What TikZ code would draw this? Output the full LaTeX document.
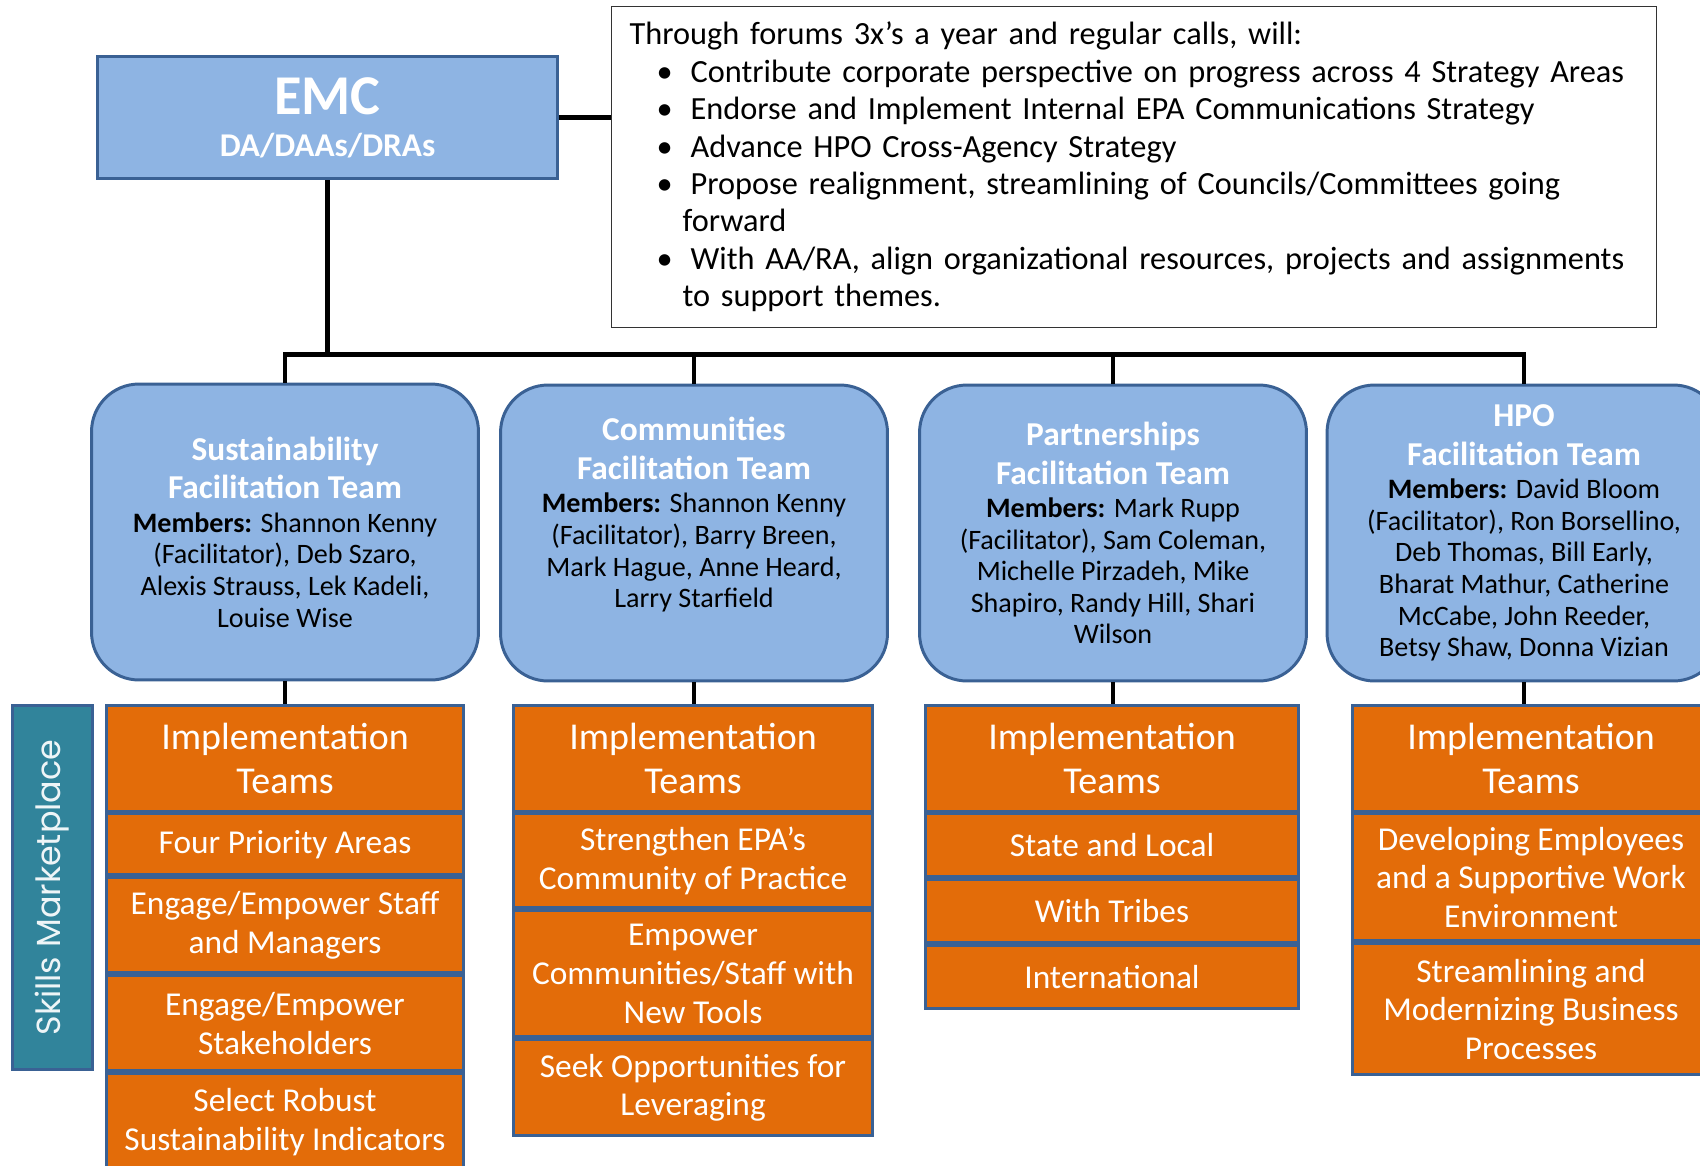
\documentclass[tikz,border=0pt]{standalone}
\usepackage{fontspec}
\setmainfont{Carlito}
\newfontfamily\gothicfont{Poppins}
\usetikzlibrary{positioning}

\definecolor{boxblue}{HTML}{8EB4E3}
\definecolor{edgeblue}{HTML}{3A6194}
\definecolor{implorange}{HTML}{E36C09}
\definecolor{skillteal}{HTML}{31849B}

\tikzset{
  link/.style={line width=2.4pt},
  emcbox/.style={draw=edgeblue, fill=boxblue, line width=1.7pt, text=white, align=center,
    minimum width=9.2cm, minimum height=2.44cm, font=\bfseries\fontsize{32}{24}\selectfont},
  notebox/.style={draw=black!80, line width=1pt, fill=white, align=left, text width=20.3cm,
    inner xsep=0.3cm, minimum height=6.42cm, font=\fontsize{18.4}{21.3}\selectfont},
  teambox/.style={draw=edgeblue, fill=boxblue, line width=1.7pt, rounded corners=0.95cm, align=center,
    minimum width=7.74cm, minimum height=5.92cm, font=\fontsize{16}{18}\selectfont},
  implhead/.style={draw=edgeblue, fill=implorange, line width=1.7pt, text=white, align=center,
    minimum height=2.12cm, font=\fontsize{21.6}{25}\selectfont},
  impl/.style={draw=edgeblue, fill=implorange, line width=1.7pt, text=white, align=center,
    font=\fontsize{19}{22}\selectfont},
  skills/.style={draw=edgeblue, fill=skillteal, line width=1.7pt, text=white!92!skillteal,
    minimum width=7.3cm, minimum height=1.62cm, font=\gothicfont\fontsize{19}{22}\selectfont}
}
\newcommand{\teamtitle}[1]{{\bfseries\color{white}\fontsize{19}{22}\selectfont #1}}
\newcommand{\bul}{\hspace*{0.6cm}\makebox[0.68cm][l]{\textbullet}}

\begin{document}
\begin{tikzpicture}[x=0.02cm, y=-0.02cm]
	\useasboundingbox[fill=white] (0,0) rectangle (1700,1166);
	% top
	\node (emc) at (327.5,117.6) [emcbox] {EMC\\{\fontsize{18.9}{22}\selectfont DA/DAAs/DRAs}};
	\node (note) at (1134,167) [notebox] {\hspace*{0.06cm}Through forums 3x’s a year and regular calls, will:\\
		\bul Contribute corporate perspective on progress across 4 Strategy Areas\\
		\bul Endorse and Implement Internal EPA Communications Strategy\\
		\bul Advance HPO Cross-Agency Strategy\\
		\bul Propose realignment, streamlining of Councils/Committees going\\
		\hspace*{1.12cm}forward\\
		\bul With AA/RA, align organizational resources, projects and assignments\\
		\hspace*{1.12cm}to support themes.};
	% facilitation teams
	\node (sust) at (285,532) [teambox] {\teamtitle{Sustainability}\\[4pt]\teamtitle{Facilitation Team}\\[1pt]
		\textbf{Members:} Shannon Kenny\\(Facilitator), Deb Szaro,\\Alexis Strauss, Lek Kadeli,\\Louise Wise};
	\node (comm) at (694,533) [teambox] {\teamtitle{Communities}\\[4pt]\teamtitle{Facilitation Team}\\[1pt]
		\textbf{Members:} Shannon Kenny\\(Facilitator), Barry Breen,\\Mark Hague, Anne Heard,\\Larry Starfield\\ \strut};
	\node (part) at (1113,533) [teambox] {\teamtitle{Partnerships}\\[4pt]\teamtitle{Facilitation Team}\\[1pt]
		\textbf{Members:} Mark Rupp\\(Facilitator), Sam Coleman,\\Michelle Pirzadeh, Mike\\Shapiro, Randy Hill, Shari\\Wilson};
	\node (hpo) at (1524,533) [teambox, minimum width=7.88cm] {\teamtitle{HPO}\\[4pt]\teamtitle{Facilitation Team}\\[1pt]
		\textbf{Members:} David Bloom\\(Facilitator), Ron Borsellino,\\Deb Thomas, Bill Early,\\Bharat Mathur, Catherine\\McCabe, John Reeder,\\Betsy Shaw, Donna Vizian};
	% implementation teams
	\node (sust0) at (285,758) [implhead, minimum width=7.16cm] {Implementation\\Teams};
	\node (sust1) [impl, below=0pt of sust0, minimum width=7.16cm, minimum height=1.22cm] {Four Priority Areas};
	\node (sust2) [impl, below=0pt of sust1, minimum width=7.16cm, minimum height=1.9cm] {Engage/Empower Staff\\and Managers};
	\node (sust3) [impl, below=0pt of sust2, minimum width=7.16cm, minimum height=1.9cm] {Engage/Empower\\Stakeholders};
	\node (sust4) [impl, below=0pt of sust3, minimum width=7.16cm, minimum height=1.92cm] {Select Robust\\Sustainability Indicators};

	\node (comm0) at (693,758) [implhead, minimum width=7.2cm] {Implementation\\Teams};
	\node (comm1) [impl, below=0pt of comm0, minimum width=7.2cm, minimum height=1.88cm] {Strengthen EPA’s\\Community of Practice};
	\node (comm2) [impl, below=0pt of comm1, minimum width=7.2cm, minimum height=2.52cm] {Empower\\Communities/Staff with\\New Tools};
	\node (comm3) [impl, below=0pt of comm2, minimum width=7.2cm, minimum height=1.92cm] {Seek Opportunities for\\Leveraging};

	\node (part0) at (1112,758) [implhead, minimum width=7.48cm] {Implementation\\Teams};
	\node (part1) [impl, below=0pt of part0, minimum width=7.48cm, minimum height=1.26cm] {State and Local};
	\node (part2) [impl, below=0pt of part1, minimum width=7.48cm, minimum height=1.26cm] {With Tribes};
	\node (part3) [impl, below=0pt of part2, minimum width=7.48cm, minimum height=1.26cm] {International};

	\node (hpo0) at (1531,758) [implhead, minimum width=7.16cm] {Implementation\\Teams};
	\node (hpo1) [impl, below=0pt of hpo0, minimum width=7.16cm, minimum height=2.54cm] {Developing Employees\\and a Supportive Work\\Environment};
	\node (hpo2) [impl, below=0pt of hpo1, minimum width=7.16cm, minimum height=2.62cm] {Streamlining and\\Modernizing Business\\Processes};

	\node (skill) at (52.5,887.5) [skills, rotate=90] {Skills Marketplace};
	% connectors
	\coordinate (bus) at (0,354.5);
	\draw[link] (emc.east) -- (emc.east -| note.west);
	\draw[link] (emc.south) -- (emc.south |- bus);
	\draw[link] (sust.north) -- (sust.north |- bus) -- (hpo.north |- bus) -- (hpo.north);
	\draw[link] (comm.north) -- (comm.north |- bus);
	\draw[link] (part.north) -- (part.north |- bus);
	\draw[link] (sust.south) -- (sust.south |- sust0.north);
	\draw[link] (comm.south) -- (comm.south |- comm0.north);
	\draw[link] (part.south) -- (part.south |- part0.north);
	\draw[link] (hpo.south) -- (hpo.south |- hpo0.north);
\end{tikzpicture}
\end{document}
